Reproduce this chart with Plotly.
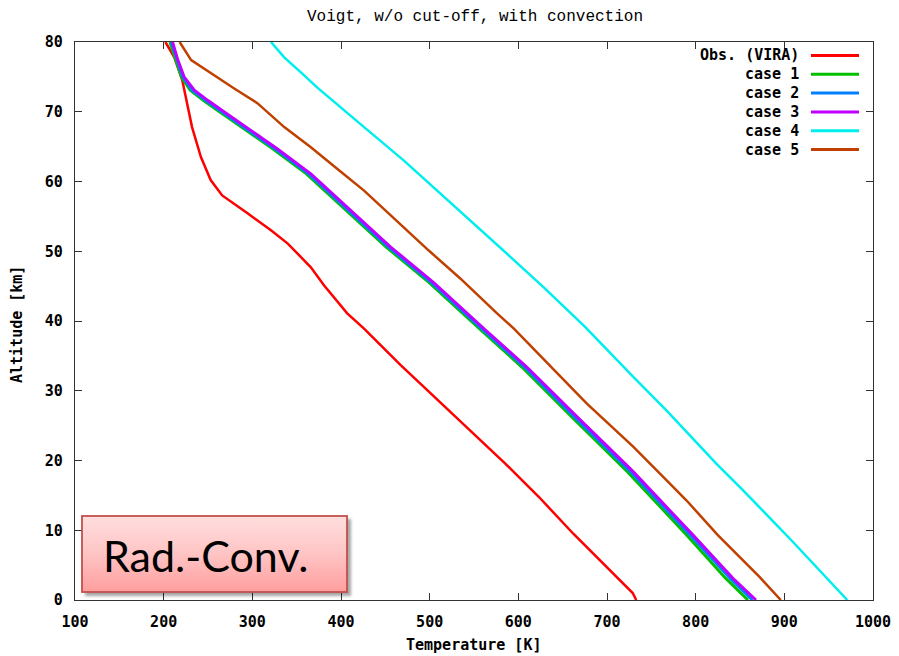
import base64
import plotly.graph_objects as go

# ---- profile data: altitude [km] vs temperature [K] ----
vira_alt = [0, 1, 9.5, 14.8, 19.6, 23.4, 26.5, 29.6, 33.7, 38.9, 41.1, 45.1,
            47.7, 51.1, 53, 55.4, 58, 60.2, 63.5, 67.8, 70.7, 74.5, 77.8, 80]
vira_T = [733, 729, 662, 623, 585, 553, 527, 501, 467, 426, 407, 381,
          366, 340, 321, 295, 266, 253, 242, 232, 227, 221, 212, 202]

case_alt = [0, 3.1, 9.3, 18.4, 26.3, 33.4, 38.8, 45.5, 50.6, 55.9, 61.1,
            64.7, 67.3, 70.0, 71.6, 73.1, 75.0, 77.4, 80]
case1_T = [859, 834, 790, 723, 660, 604, 557, 499.5, 451, 406, 361,
           323, 293, 263, 245, 230, 220, 214, 207]
case2_T = [864, 839, 794, 726.5, 663, 607, 559.5, 502, 453.5, 408.5, 363.5,
           325.5, 295.5, 265.5, 247.5, 232, 221.5, 215, 208.5]
case3_T = [868, 842, 797, 729.5, 666, 609.5, 562, 504.5, 456, 411, 366,
           328, 298, 268, 250, 234.5, 223, 216, 210]

case4_alt = [0, 4.3, 8.35, 15.8, 19.6, 27.2, 31.8, 39.2, 44.9, 49.2, 54.4,
             58.7, 63, 67.8, 71.6, 73.5, 75.5, 77.8, 80]
case4_T = [971, 939.5, 909.5, 853, 823, 767, 731, 675, 628, 591, 546,
           508, 471, 426, 390, 373, 356, 336, 321]

case5_alt = [0, 3.3, 9.3, 14.3, 17.2, 22, 28.2, 34.6, 38.9, 41.1, 46.1, 50.1,
             54.4, 58.7, 61.8, 64.9, 67.8, 71.2, 73.3, 75.5, 77.4, 80]
case5_T = [896, 872, 825, 789.5, 767, 729.5, 677, 628, 595, 576, 534.5, 499,
           463, 426, 396, 366, 336, 306, 280, 253, 231, 218]

series_names = ["Obs. (VIRA)", "case 1", "case 2", "case 3", "case 4", "case 5"]
series_colors = ["#ff0000", "#00c000", "#0080ff", "#c000ff", "#00eeee", "#c04000"]
series_T = [vira_T, case1_T, case2_T, case3_T, case4_T, case5_T]
series_alt = [vira_alt, case_alt, case_alt, case_alt, case4_alt, case5_alt]
series_width = [2.5, 3, 3, 3, 2.5, 2.5]

x_ticks = list(range(100, 1001, 100))
y_ticks = list(range(0, 81, 10))

W, H = 899, 656
L, R, T, B = 75, 26, 42, 56
pw, ph = W - L - R, H - T - B


def px_x(p):
    return (p - L) / pw


def px_y(p):
    return (H - B - p) / ph


fig = go.Figure()
for name, col, tv, av, lw in zip(series_names, series_colors, series_T, series_alt, series_width):
    fig.add_trace(go.Scatter(x=tv, y=av, mode="lines", name=name,
                             line=dict(color=col, width=lw), showlegend=False))

tick_font = dict(family="DejaVu Sans Mono", size=15, color="#000", weight="bold")
axis_common = dict(showline=True, linecolor="#333", linewidth=1.2, mirror="ticks",
                   ticks="inside", ticklen=7, tickcolor="#333", tickwidth=1.2,
                   showgrid=False, zeroline=False, tickfont=tick_font,
                   ticklabelstandoff=8)

fig.update_layout(
    width=W, height=H,
    margin=dict(l=L, r=R, t=T, b=B, autoexpand=False),
    paper_bgcolor="white", plot_bgcolor="white",
    title=dict(text="Voigt, w/o cut-off, with convection", x=px_x(475), xref="paper",
               xanchor="center", y=1 - 15 / H, yanchor="middle",
               font=dict(family="Liberation Mono", size=16, color="#000")),
    xaxis=dict(range=[100, 1000], tickvals=x_ticks, **axis_common),
    yaxis=dict(range=[0, 80], tickvals=y_ticks, **axis_common),
)

# legend drawn gnuplot-style: right-aligned label followed by a line sample
label_font = dict(family="DejaVu Sans Mono", size=15, color="#000", weight="bold")
for i, (name, col) in enumerate(zip(series_names, series_colors)):
    yp = px_y(55.5 + i * 18.8)
    fig.add_annotation(text=name, xref="paper", yref="paper", x=px_x(801), y=yp,
                       xanchor="right", yanchor="middle", showarrow=False,
                       font=label_font)
    fig.add_shape(type="line", xref="paper", yref="paper",
                  x0=px_x(811), x1=px_x(859), y0=yp, y1=yp,
                  line=dict(color=col, width=3))

# axis titles
fig.add_annotation(text="Temperature [K]", xref="paper", yref="paper",
                   x=px_x(473), y=px_y(645), xanchor="center", yanchor="middle",
                   showarrow=False, font=label_font)
fig.add_annotation(text="Altitude [km]", xref="paper", yref="paper",
                   x=px_x(17), y=px_y(325), xanchor="center", yanchor="middle",
                   textangle=-90, showarrow=False, font=label_font)

# "Rad.-Conv." callout box with gradient fill and drop shadow
bw, bh = 266, 77
svg = f"""<svg xmlns='http://www.w3.org/2000/svg' width='{bw + 8}' height='{bh + 8}' viewBox='0 0 {bw + 8} {bh + 8}'>
<defs>
<linearGradient id='g' x1='0' y1='0' x2='0' y2='1'>
<stop offset='0' stop-color='#ffdede'/>
<stop offset='0.5' stop-color='#ffc4c4'/>
<stop offset='1' stop-color='#ff9e9e'/>
</linearGradient>
<filter id='s' x='-10%' y='-10%' width='130%' height='130%'><feGaussianBlur stdDeviation='1.6'/></filter>
</defs>
<rect x='4' y='4' width='{bw}' height='{bh}' fill='#000' fill-opacity='0.35' filter='url(#s)'/>
<rect x='1' y='1' width='{bw - 1}' height='{bh - 1}' fill='url(#g)' stroke='#c0504d' stroke-width='1.8'/>
</svg>"""
src = "data:image/svg+xml;base64," + base64.b64encode(svg.encode()).decode()
fig.add_layout_image(source=src, xref="paper", yref="paper",
                     x=px_x(81), y=px_y(515), sizex=(bw + 8) / pw, sizey=(bh + 8) / ph,
                     xanchor="left", yanchor="top", sizing="stretch", layer="above")
fig.add_annotation(text="Rad.-Conv.", xref="paper", yref="paper",
                   x=px_x(101), y=px_y(555), xanchor="left", yanchor="middle",
                   showarrow=False,
                   font=dict(family="Lato", size=43, color="#000"))

fig.write_html("out.html")
